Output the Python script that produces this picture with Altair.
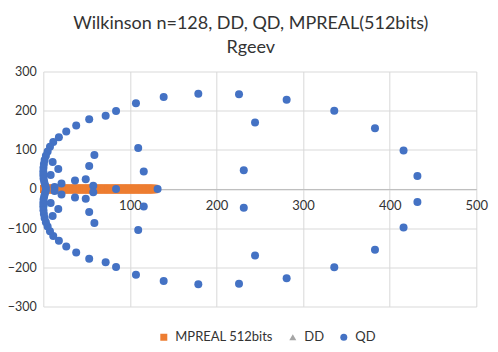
import altair as alt
import pandas as pd

TITLE = ["Wilkinson n=128, DD, QD, MPREAL(512bits)", "Rgeev"]
SERIES = ["MPREAL 512bits", "DD", "QD"]
COLORS = ["#ED7D31", "#A5A5A5", "#4472C4"]
SHAPES = ["square", "triangle-up", "circle"]

# MPREAL 512bits: all eigenvalues real (1 .. 128)
MP_RE = [1, 2, 3, 4, 5, 6, 7, 8, 9, 10, 11, 12, 13, 14, 15, 16, 17, 18, 19, 20,
         21, 22, 23, 24, 25, 26, 27, 28, 29, 30, 31, 32, 33, 34, 35, 36, 37, 38, 39, 40,
         41, 42, 43, 44, 45, 46, 47, 48, 49, 50, 51, 52, 53, 54, 55, 56, 57, 58, 59, 60,
         61, 62, 63, 64, 65, 66, 67, 68, 69, 70, 71, 72, 73, 74, 75, 76, 77, 78, 79, 80,
         81, 82, 83, 84, 85, 86, 87, 88, 89, 90, 91, 92, 93, 94, 95, 96, 97, 98, 99, 100,
         101, 102, 103, 104, 105, 106, 107, 108, 109, 110, 111, 112, 113, 114, 115, 116,
         117, 118, 119, 120, 121, 122, 123, 124, 125, 126, 127, 128]
MP_IM = [0] * 128

# QD eigenvalues
QD_RE = [432, 416, 383, 336, 281, 226, 179, 139, 107, 84, 72, 53, 38, 26.5, 18, 11.5,
         7.7, 5, 3, 1.5, 0.7, 0.2, 0, 0, 0.3, 1, 2, 3,
         244.5, 231.5, 109.6, 116, 59, 53, 49, 57.7, 36.6, 17.3, 10.8, 8.5, 21, 13,
         432, 416, 383, 336, 281, 226, 179, 139, 107, 84, 72, 53, 38, 26.5, 18, 11.5,
         7.7, 5, 3, 1.5, 0.7, 0.2, 0, 0, 0.3, 1, 2, 3,
         244.5, 231.5, 109.6, 116, 59, 53, 49, 57.7, 36.6, 17.3, 10.8, 8.5, 21, 13,
         84, 132]
QD_IM = [33, 98, 155, 200, 228, 242, 243, 235, 219, 199, 187, 178, 162, 147, 132, 120,
         108, 96, 85, 74, 64, 54, 45, 36, 27, 19, 11, 4,
         170, 48, 105, 45, 87, 59, 25, 8.5, 22, 51, 69, 36, 14, 5,
         -33, -98, -155, -200, -228, -242, -243, -235, -219, -199, -187, -178, -162, -147, -132, -120,
         -108, -96, -85, -74, -64, -54, -45, -36, -27, -19, -11, -4,
         -170, -48, -105, -45, -87, -59, -25, -8.5, -22, -51, -69, -36, -14, -5,
         0, 0]

# DD results coincide with QD (hidden beneath the QD markers)
DD_RE = QD_RE
DD_IM = QD_IM

df = pd.concat([
    pd.DataFrame({"re": MP_RE, "im": MP_IM, "series": SERIES[0]}),
    pd.DataFrame({"re": DD_RE, "im": DD_IM, "series": SERIES[1]}),
    pd.DataFrame({"re": QD_RE, "im": QD_IM, "series": SERIES[2]}),
], ignore_index=True)

FONT = "Lato"
TXT = "#333333"

color = alt.Color("series:N",
                  scale=alt.Scale(domain=SERIES, range=COLORS),
                  legend=alt.Legend(title=None, orient="none", direction="horizontal",
                                    legendX=114, legendY=259,
                                    labelFont=FONT, labelFontSize=13, labelColor=TXT,
                                    symbolSize=49, symbolStrokeWidth=0,
                                    labelOffset=5, columnPadding=13))
shape = alt.Shape("series:N", scale=alt.Scale(domain=SERIES, range=SHAPES), legend=None)

x = alt.X("re:Q", scale=alt.Scale(domain=[0, 500], nice=False),
          axis=alt.Axis(title=None, values=[0, 100, 200, 300, 400, 500], offset=-117.5,
                        ticks=False, labelPadding=11, domainColor="#BFBFBF",
                        gridColor="#D9D9D9", labelFont=FONT, labelFontSize=13,
                        labelColor=TXT, labelFlush=False))
y = alt.Y("im:Q", scale=alt.Scale(domain=[-300, 300], nice=False),
          axis=alt.Axis(title=None, values=[-300, -200, -100, 0, 100, 200, 300],
                        ticks=False, domain=False, labelPadding=7,
                        gridColor="#D9D9D9", labelFont=FONT, labelFontSize=12.5,
                        labelColor=TXT, labelFlush=False))

base = alt.Chart(df).encode(x=x, y=y, color=color, shape=shape)

layer_mp = base.transform_filter(alt.datum.series == SERIES[0]).mark_point(
    filled=True, size=70, opacity=1, strokeWidth=0)
layer_dd = base.transform_filter(alt.datum.series == SERIES[1]).mark_point(
    filled=True, size=30, opacity=1, strokeWidth=0)
layer_qd = base.transform_filter(alt.datum.series == SERIES[2]).mark_point(
    filled=True, size=64, opacity=1, strokeWidth=0)

chart = alt.layer(layer_mp, layer_dd, layer_qd).properties(
    width=433, height=235,
    autosize=alt.AutoSizeParams(type="none"),
    padding={"left": 35.3, "top": 63.5, "right": 13, "bottom": 37.5},
    title=alt.TitleParams(text=TITLE, font=FONT, fontSize=18, fontWeight="normal",
                          color=TXT, anchor="middle", dx=-9, dy=27, offset=17.5,
                          baseline="bottom", lineHeight=24.5),
).configure_view(stroke=None)

chart.save("out.html", embed_options={"renderer": "svg", "actions": False})
